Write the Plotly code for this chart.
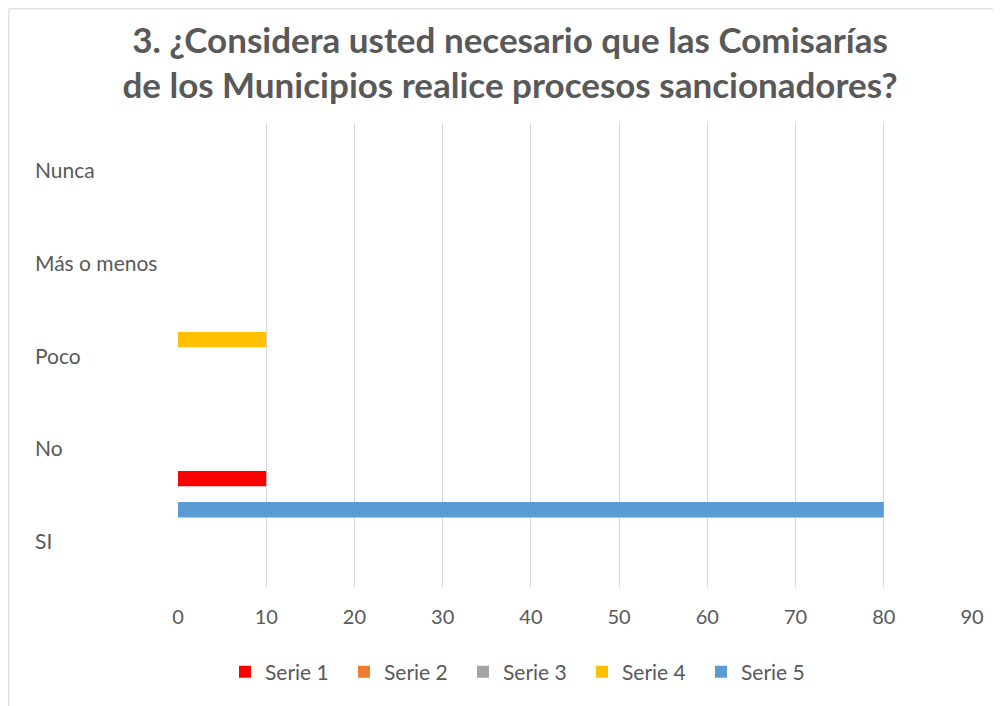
import plotly.graph_objects as go

categories = ["SI", "No", "Poco", "Más o menos", "Nunca"]
series_names = ["Serie 1", "Serie 2", "Serie 3", "Serie 4", "Serie 5"]
serie1 = [0, 10, 0, 0, 0]
serie2 = [0, 0, 0, 0, 0]
serie3 = [0, 0, 0, 0, 0]
serie4 = [0, 0, 10, 0, 0]
serie5 = [80, 0, 0, 0, 0]
series_values = [serie1, serie2, serie3, serie4, serie5]
colors = ["#FF0000", "#ED7D31", "#A5A5A5", "#FFC000", "#5B9BD5"]
x_ticks = [0, 10, 20, 30, 40, 50, 60, 70, 80, 90]

title_text = "3. ¿Considera usted necesario que las Comisarías<br>de los Municipios realice procesos sancionadores?"

FONT = "Lato"
GRAY = "#595959"

fig = go.Figure()
for name, vals, col in zip(series_names, series_values, colors):
    fig.add_trace(go.Bar(
        y=categories, x=vals, name=name, orientation="h",
        marker=dict(color=col, line=dict(width=0)),
    ))

# page is offset by the 8px body margin
W, H = 993, 698
ml, mr, mt, mb = 170, 29, 115, 119
pw = W - ml - mr
ph = H - mt - mb

annotations = []
for c in categories:
    annotations.append(dict(
        x=(25 - ml) / pw, xref="paper", y=c, yref="y",
        text=c, showarrow=False, xanchor="left", yanchor="middle",
        font=dict(family=FONT, size=21, color=GRAY),
    ))

fig.update_layout(
    width=W, height=H,
    margin=dict(l=ml, r=mr, t=mt, b=mb),
    paper_bgcolor="white", plot_bgcolor="white",
    title=dict(
        text="<b>" + title_text + "</b>",
        x=502 / W, xref="container", xanchor="center",
        y=1 - 44.5 / H, yref="container", yanchor="middle",
        font=dict(family=FONT, size=35, color=GRAY),
    ),
    barmode="group", bargap=0.17, bargroupgap=0,
    showlegend=True,
    legend=dict(
        orientation="h", x=217 / W, xref="container", xanchor="left",
        y=1 - 664 / H, yref="container", yanchor="middle",
        font=dict(family=FONT, size=21, color=GRAY),
        traceorder="normal", itemclick=False,
        entrywidth=74, entrywidthmode="pixels",
    ),
    xaxis=dict(
        range=[0, 90], tickvals=x_ticks, showgrid=True, gridcolor="#D9D9D9",
        gridwidth=1, zeroline=False, showline=False,
        ticks="outside", ticklen=12, tickcolor="rgba(0,0,0,0)",
        tickfont=dict(family=FONT, size=20, color=GRAY),
    ),
    yaxis=dict(
        categoryorder="array", categoryarray=categories,
        showticklabels=False, showgrid=False, zeroline=False, showline=False,
    ),
    annotations=annotations,
    shapes=[
        dict(type="line", xref="paper", yref="paper",
             x0=(0.75 - ml) / pw, x1=(W - ml) / pw,
             y0=(H - 0.75 - mb) / ph, y1=(H - 0.75 - mb) / ph,
             line=dict(color="#E3E3E3", width=1.5)),
        dict(type="line", xref="paper", yref="paper",
             x0=(0.75 - ml) / pw, x1=(0.75 - ml) / pw,
             y0=(H - 0.75 - mb) / ph, y1=(0 - mb) / ph,
             line=dict(color="#E3E3E3", width=1.5)),
    ],
)

fig.write_html("out.html")
